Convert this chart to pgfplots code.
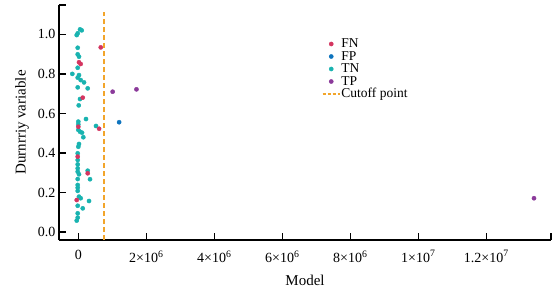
\documentclass[border=0pt]{standalone}
\usepackage{pgfplots}
\pgfplotsset{compat=1.18}
\usepackage{fontspec}
\setmainfont{Liberation Serif}
\definecolor{cFN}{HTML}{D43560}
\definecolor{cFP}{HTML}{0E74BE}
\definecolor{cTN}{HTML}{19B3B0}
\definecolor{cTP}{HTML}{8B3A9A}
\definecolor{cCut}{HTML}{F2A52B}
\begin{document}
\begin{tikzpicture}
\useasboundingbox (-59pt,-55pt) rectangle (494pt,240pt);
\begin{axis}[
  at={(0pt,0pt)}, anchor=south west,
  scale only axis, width=492pt, height=235pt,
  xmin=-5.68e5, xmax=1.39e7, ymin=-0.039, ymax=1.148,
  axis x line*=bottom, axis y line*=left,
  axis line style={line width=1.6pt, -},
  every tick/.style={line width=1.6pt, black},
  major tick length=7pt,
  tick align=inside,
  scaled x ticks=false,
  xtick={0,2e6,4e6,6e6,8e6,1e7,1.2e7},
  xticklabels={0, 2×10\textsuperscript{6}, 4×10\textsuperscript{6}, 6×10\textsuperscript{6}, 8×10\textsuperscript{6}, 1×10\textsuperscript{7}, 1.2×10\textsuperscript{7}},
  extra x ticks={1.39e7}, extra x tick labels={},
  extra y ticks={1.148}, extra y tick labels={},
  ytick={0,0.2,0.4,0.6,0.8,1.0},
  /pgf/number format/assume math mode=true,
  yticklabel style={/pgf/number format/fixed, /pgf/number format/fixed zerofill, /pgf/number format/precision=1},
  ticklabel style={font=\fontsize{14pt}{16pt}\selectfont},
  xticklabel style={yshift=-7pt},
  xlabel={Model},
  ylabel={Durnrriy variable},
  label style={font=\fontsize{15pt}{17pt}\selectfont},
  xlabel style={at={(axis description cs:0.5,-0.17)}, anchor=center},
  ylabel style={at={(axis description cs:-0.075,0.5)}, anchor=center, rotate=0},
  legend style={font=\fontsize{13.5pt}{14pt}\selectfont, draw=none, fill=none,
    at={(0.528,0.87)}, anchor=north west, row sep=0pt,
    nodes={inner sep=1pt, text height=9pt, text depth=1.5pt}},
  legend cell align=left,
  clip=false,
]
\addlegendimage{only marks, color=cFN, mark=*, mark size=2.1pt}
\addlegendentry{FN}
\addlegendimage{only marks, color=cFP, mark=*, mark size=2.1pt}
\addlegendentry{FP}
\addlegendimage{only marks, color=cTN, mark=*, mark size=2.1pt}
\addlegendentry{TN}
\addlegendimage{only marks, color=cTP, mark=*, mark size=2.1pt}
\addlegendentry{TP}
\addlegendimage{cCut, line width=1.4pt, dash pattern=on 3pt off 2pt}
\addlegendentry{Cutoff point}

\addplot[cCut, line width=1.6pt, dash pattern=on 5pt off 3pt, forget plot] coordinates {(7.5e5,-0.039) (7.5e5,1.113)};

\addplot[only marks, color=cTN, mark=*, mark size=2.1pt, forget plot] coordinates {
(50000,1.025) (100000,1.02) (-18000,1.005) (-47000,0.996) (-18000,0.932) (-18000,0.899) (20000,0.887) (-18000,0.831) (-176000,0.800) (20000,0.794) (-18000,0.781) (70000,0.769) (168000,0.757) (-18000,0.732) (276000,0.727) (50000,0.673) (12000,0.641) (226000,0.572) (0,0.559) (0,0.545) (0,0.517) (50000,0.508) (109000,0.503) (520000,0.537) (147000,0.480) (20000,0.446) (0,0.432) (-18000,0.399) (-18000,0.365) (-18000,0.343) (-18000,0.323) (-18000,0.306) (276000,0.311) (344000,0.268) (20000,0.293) (-18000,0.269) (-18000,0.239) (-18000,0.225) (-18000,0.209) (20000,0.180) (70000,0.172) (315000,0.158) (-18000,0.134) (130000,0.121) (-18000,0.096) (-18000,0.074) (-47000,0.059)
};
\addplot[only marks, color=cFN, mark=*, mark size=2.1pt, forget plot] coordinates {
(20000,0.859) (70000,0.850) (660000,0.934) (130000,0.680) (0,0.533) (611000,0.523) (-18000,0.382) (276000,0.298) (-47000,0.163)
};
\addplot[only marks, color=cFP, mark=*, mark size=2.1pt, forget plot] coordinates {
(1.2e6,0.556)
};
\addplot[only marks, color=cTP, mark=*, mark size=2.1pt, forget plot] coordinates {
(1.01e6,0.710) (1.71e6,0.722) (1.34e7,0.172)
};
\end{axis}
\end{tikzpicture}
\end{document}
